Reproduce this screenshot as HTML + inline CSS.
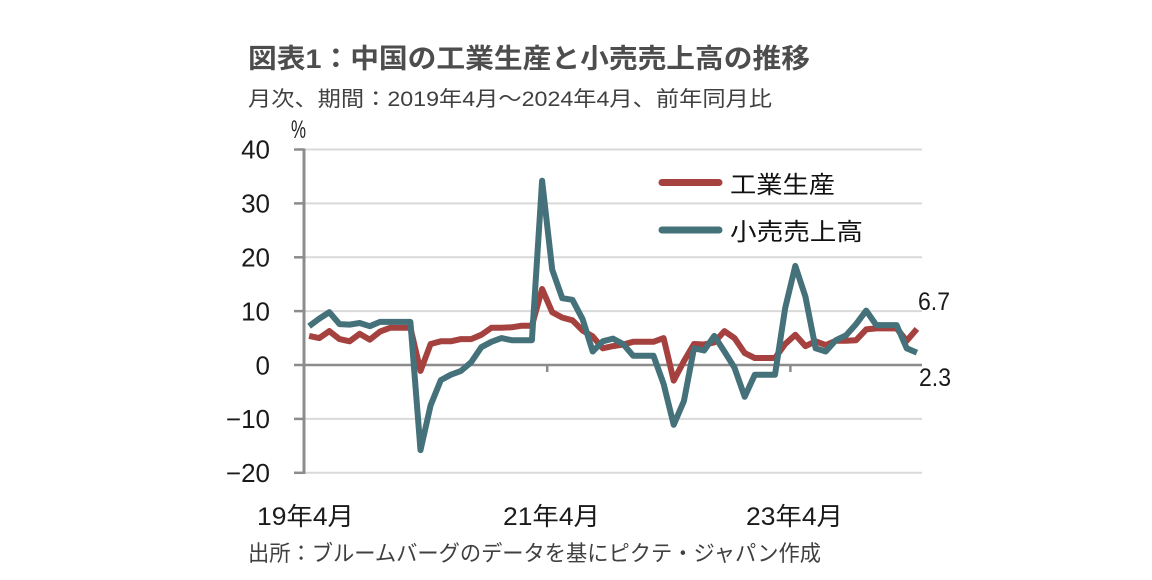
<!DOCTYPE html>
<html>
<head>
<meta charset="utf-8">
<style>
html,body{margin:0;padding:0;background:#fff;}
svg{display:block;}
text{font-family:"Liberation Sans","Noto Sans CJK JP",sans-serif;}
</style>
</head>
<body>
<svg width="1152" height="580" viewBox="0 0 1152 580" xmlns="http://www.w3.org/2000/svg">
<rect width="1152" height="580" fill="#fff"/>

<!-- Title -->
<text x="248" y="68" font-size="27" font-weight="bold" fill="#4d4d4d" textLength="562" lengthAdjust="spacingAndGlyphs">図表1：中国の工業生産と小売売上高の推移</text>
<text x="248" y="106" font-size="21" fill="#404040" textLength="524" lengthAdjust="spacingAndGlyphs">月次、期間：2019年4月～2024年4月、前年同月比</text>

<!-- % -->
<text x="291" y="138" font-size="25" fill="#222" textLength="15" lengthAdjust="spacingAndGlyphs">%</text>

<!-- gridlines -->
<g stroke="#d9d9d9" stroke-width="2">
<line x1="304" y1="149.5" x2="922" y2="149.5"/>
<line x1="304" y1="203.4" x2="922" y2="203.4"/>
<line x1="304" y1="257.3" x2="922" y2="257.3"/>
<line x1="304" y1="311.1" x2="922" y2="311.1"/>
<line x1="304" y1="418.9" x2="922" y2="418.9"/>
<line x1="304" y1="472.8" x2="922" y2="472.8"/>
</g>
<!-- zero line -->
<line x1="304" y1="365" x2="922" y2="365" stroke="#8c8c8c" stroke-width="2.5"/>
<!-- y axis -->
<line x1="304" y1="148.5" x2="304" y2="474" stroke="#8c8c8c" stroke-width="3"/>
<g stroke="#8c8c8c" stroke-width="2.5">
<line x1="294" y1="149.5" x2="304" y2="149.5"/>
<line x1="294" y1="203.4" x2="304" y2="203.4"/>
<line x1="294" y1="257.3" x2="304" y2="257.3"/>
<line x1="294" y1="311.1" x2="304" y2="311.1"/>
<line x1="294" y1="365" x2="304" y2="365"/>
<line x1="294" y1="418.9" x2="304" y2="418.9"/>
<line x1="294" y1="472.8" x2="304" y2="472.8"/>
<line x1="547.2" y1="365" x2="547.2" y2="372"/>
<line x1="790.4" y1="365" x2="790.4" y2="372"/>
</g>

<!-- y labels -->
<g font-size="26" fill="#1a1a1a" text-anchor="end">
<text x="270" y="158.5">40</text>
<text x="270" y="212.5">30</text>
<text x="270" y="266.5">20</text>
<text x="270" y="320.3">10</text>
<text x="270" y="374.3">0</text>
<text x="270" y="428.2">−10</text>
<text x="270" y="482">−20</text>
</g>

<!-- x labels -->
<g font-size="25" fill="#1a1a1a">
<text x="257" y="525" textLength="97" lengthAdjust="spacingAndGlyphs">19年4月</text>
<text x="503" y="525" textLength="97" lengthAdjust="spacingAndGlyphs">21年4月</text>
<text x="746" y="525" textLength="97" lengthAdjust="spacingAndGlyphs">23年4月</text>
</g>

<!-- source -->
<text x="248" y="561" font-size="22" fill="#404040" textLength="573" lengthAdjust="spacingAndGlyphs">出所：ブルームバーグのデータを基にピクテ・ジャパン作成</text>

<!-- Industrial production -->
<polyline fill="none" stroke="#a5413f" stroke-width="6" stroke-linejoin="round" stroke-linecap="butt" points="
309.1,335.9 319.2,338.1 329.3,331.1 339.5,339.1 349.6,341.3 359.7,333.8 369.8,339.7 380.0,331.6 390.1,327.8 400.2,327.8
410.4,327.8 420.5,370.9 430.6,344.0 440.8,341.3 450.9,341.3 461.0,339.1 471.1,339.1 481.3,334.8 491.4,327.8 501.5,327.8
511.7,327.3 521.8,325.7 531.9,325.7 542.1,289.0 552.2,312.2 562.3,317.6 572.4,320.3 582.6,330.5 592.7,336.4 602.8,348.3
613.0,346.1 623.1,344.5 633.2,341.8 643.4,341.8 653.5,341.8 663.6,338.1 673.7,380.6 683.9,361.2 694.0,344.0 704.1,344.5
714.3,342.4 724.4,331.1 734.5,338.1 744.7,353.1 754.8,358.0 764.9,358.0 775.0,358.0 785.2,344.0 795.3,334.8 805.4,346.1
815.6,341.3 825.7,345.1 835.8,340.8 846.0,340.8 856.1,340.2 866.2,329.4 876.3,328.4 886.5,328.4 896.6,328.4 906.7,340.8
916.9,328.9"/>

<!-- Retail sales -->
<polyline fill="none" stroke="#44717a" stroke-width="6" stroke-linejoin="round" stroke-linecap="butt" points="
309.1,326.2 319.2,318.7 329.3,312.2 339.5,324.1 349.6,324.6 359.7,323.0 369.8,326.2 380.0,321.9 390.1,321.9 400.2,321.9
410.4,321.9 420.5,450.1 430.6,405.4 440.8,380.1 450.9,374.7 461.0,370.9 471.1,362.3 481.3,347.2 491.4,341.8 501.5,338.1
511.7,340.2 521.8,340.2 531.9,340.2 542.1,180.8 552.2,269.6 562.3,298.2 572.4,299.8 582.6,319.2 592.7,351.5 602.8,341.3
613.0,338.6 623.1,344.0 633.2,355.8 643.4,355.8 653.5,355.8 663.6,383.9 673.7,424.8 683.9,401.1 694.0,348.3 704.1,350.5
714.3,335.9 724.4,351.5 734.5,367.7 744.7,396.8 754.8,374.7 764.9,374.7 775.0,374.7 785.2,307.9 795.3,265.9 805.4,296.6
815.6,348.3 825.7,351.5 835.8,340.2 846.0,335.4 856.1,324.1 866.2,310.6 876.3,325.1 886.5,325.1 896.6,325.1 906.7,348.3
916.9,352.6"/>

<!-- Legend -->
<line x1="662" y1="182.5" x2="719" y2="182.5" stroke="#a5413f" stroke-width="7" stroke-linecap="round"/>
<line x1="662" y1="230" x2="719" y2="230" stroke="#44717a" stroke-width="7" stroke-linecap="round"/>
<text x="730" y="193" font-size="24" fill="#111" textLength="105" lengthAdjust="spacingAndGlyphs">工業生産</text>
<text x="730" y="240" font-size="24" fill="#111" textLength="133" lengthAdjust="spacingAndGlyphs">小売売上高</text>

<!-- end labels -->
<text x="918" y="310" font-size="25" fill="#1a1a1a" textLength="32" lengthAdjust="spacingAndGlyphs">6.7</text>
<text x="919" y="386" font-size="25" fill="#1a1a1a" textLength="32" lengthAdjust="spacingAndGlyphs">2.3</text>
</svg>
</body>
</html>
